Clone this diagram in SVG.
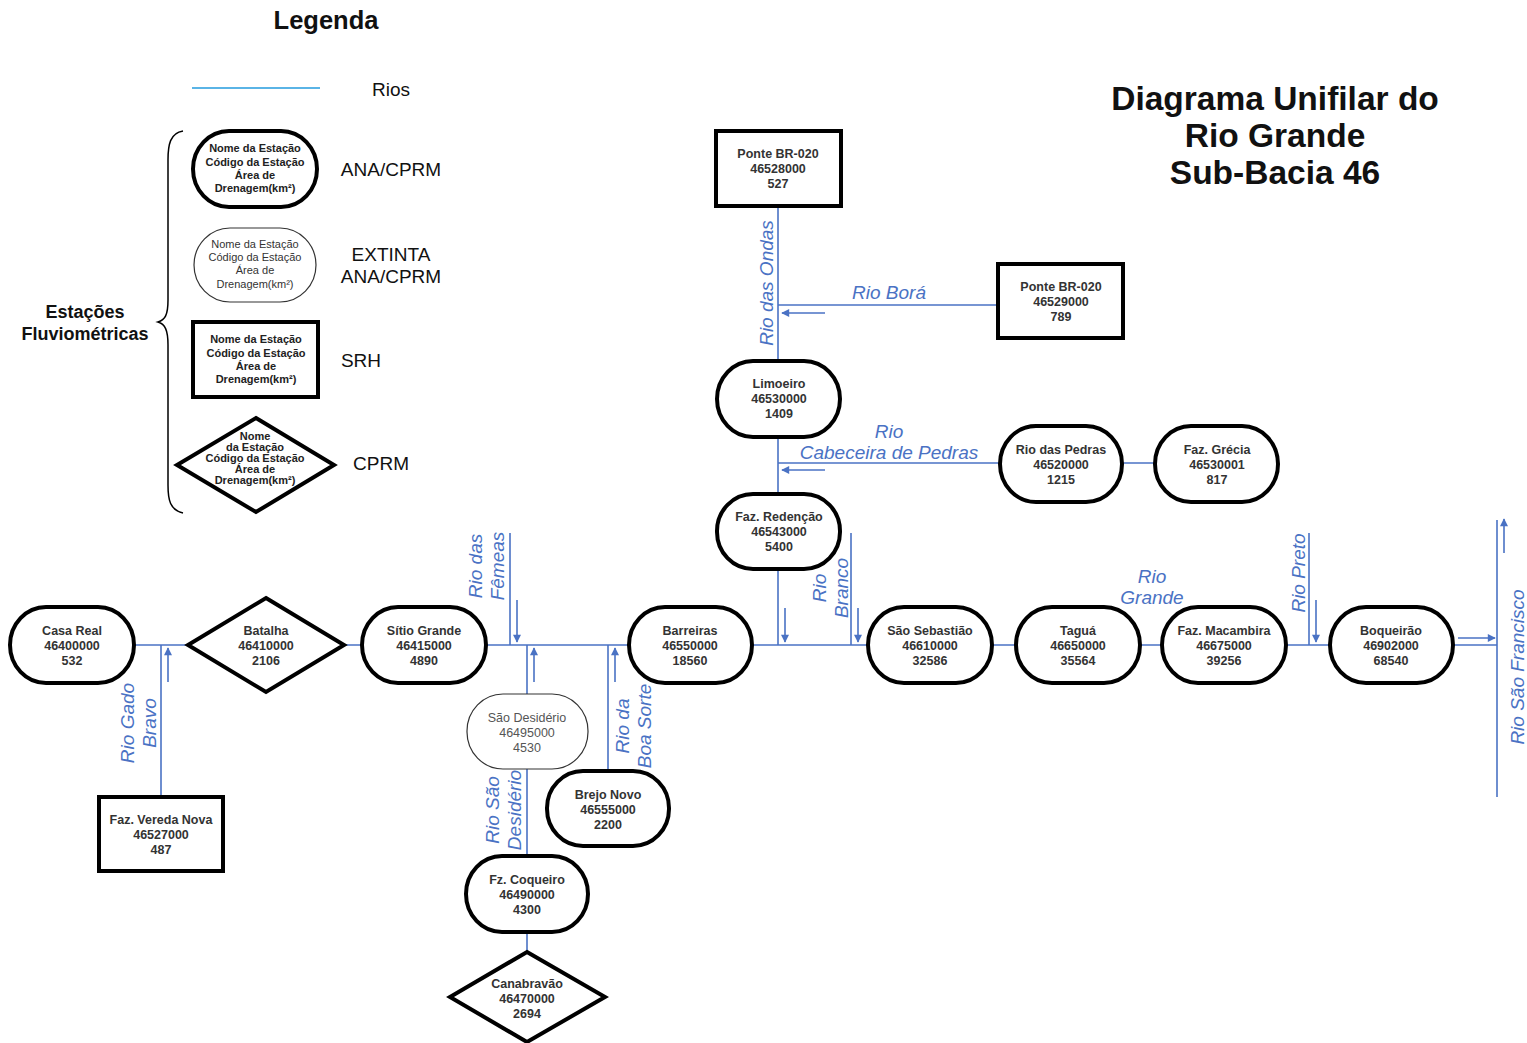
<svg xmlns="http://www.w3.org/2000/svg" width="1527" height="1043" viewBox="0 0 1527 1043">
<style>
.bg{fill:#fff}
.st{fill:#fff;stroke:#000;stroke-width:4}
.thin{fill:#fff;stroke:#333;stroke-width:1.2}
.t{font-family:"Liberation Sans",Arial,sans-serif;font-size:12.5px;font-weight:bold;fill:#333;text-anchor:middle}
.tt{font-family:"Liberation Sans",Arial,sans-serif;font-size:12.5px;fill:#555;text-anchor:middle}
.lt{font-family:"Liberation Sans",Arial,sans-serif;font-size:11px;font-weight:bold;fill:#222;text-anchor:middle}
.ltt{font-family:"Liberation Sans",Arial,sans-serif;font-size:11px;fill:#333;text-anchor:middle}
.riv{stroke:#4a72c4;stroke-width:1.6;fill:none}
.arr{stroke:#4a72c4;stroke-width:1.6;fill:none;marker-end:url(#ah)}
.rl{font-family:"Liberation Sans",Arial,sans-serif;font-size:19px;font-style:italic;fill:#4a72c4;text-anchor:middle}
.leg{font-family:"Liberation Sans",Arial,sans-serif;font-size:19px;fill:#111;text-anchor:middle}
.h{font-family:"Liberation Sans",Arial,sans-serif;font-weight:bold;fill:#111;text-anchor:middle}
</style>
<defs>
<marker id="ah" viewBox="0 0 10 10" refX="9" refY="5" markerWidth="9" markerHeight="8" orient="auto" markerUnits="userSpaceOnUse">
<path d="M0,0 L10,5 L0,10 z" fill="#4a72c4"/>
</marker>
</defs>
<rect class="bg" x="0" y="0" width="1527" height="1043"/>

<g id="title">
<text class="h" x="1275" y="110" font-size="33.5">Diagrama Unifilar do</text>
<text class="h" x="1275" y="147" font-size="33.5">Rio Grande</text>
<text class="h" x="1275" y="184" font-size="33.5">Sub-Bacia 46</text>
</g>

<g id="legend">
<text class="h" x="326" y="29" font-size="25.5">Legenda</text>
<line x1="192" y1="88" x2="320" y2="88" stroke="#5ab4e6" stroke-width="2"/>
<text class="leg" x="391" y="96" font-size="22">Rios</text>
<path d="M183,131 C170,133 168,145 168,160 L168,300 C168,315 165,320 158,322 C165,324 168,330 168,345 L168,485 C168,500 170,510 183,513" fill="none" stroke="#000" stroke-width="1.5"/>
<text class="h" x="85" y="318" font-size="18">Estações</text>
<text class="h" x="85" y="340" font-size="18">Fluviométricas</text>
<rect class="st" x="193" y="131" width="124" height="76" rx="36" ry="38"/>
<text class="lt" x="255" y="152">Nome da Estação</text>
<text class="lt" x="255" y="166">Código da Estação</text>
<text class="lt" x="255" y="179">Área de</text>
<text class="lt" x="255" y="192">Drenagem(km²)</text>
<text class="leg" x="391" y="176">ANA/CPRM</text>
<rect class="thin" x="194" y="228" width="122" height="74" rx="36" ry="37"/>
<text class="ltt" x="255" y="248">Nome da Estação</text>
<text class="ltt" x="255" y="261">Código da Estação</text>
<text class="ltt" x="255" y="274">Área de</text>
<text class="ltt" x="255" y="288">Drenagem(km²)</text>
<text class="leg" x="391" y="261">EXTINTA</text>
<text class="leg" x="391" y="283">ANA/CPRM</text>
<rect class="st" x="193" y="322" width="125" height="75"/>
<text class="lt" x="256" y="343">Nome da Estação</text>
<text class="lt" x="256" y="357">Código da Estação</text>
<text class="lt" x="256" y="370">Área de</text>
<text class="lt" x="256" y="383">Drenagem(km²)</text>
<text class="leg" x="361" y="367">SRH</text>
<polygon class="st" points="256,418 334,465 256,512 177,465"/>
<text class="lt" x="255" y="440">Nome</text>
<text class="lt" x="255" y="451">da Estação</text>
<text class="lt" x="255" y="462">Código da Estação</text>
<text class="lt" x="255" y="473">Área de</text>
<text class="lt" x="255" y="484">Drenagem(km²)</text>
<text class="leg" x="381" y="470">CPRM</text>
</g>

<g id="connectors">
<line class="riv" x1="134" y1="645" x2="1497" y2="645"/>
<line class="riv" x1="161" y1="645" x2="161" y2="797"/>
<line class="arr" x1="168" y1="682" x2="168" y2="648"/>
<line class="riv" x1="510" y1="533" x2="510" y2="645"/>
<line class="arr" x1="517" y1="600" x2="517" y2="642"/>
<line class="riv" x1="527" y1="645" x2="527" y2="694"/>
<line class="arr" x1="534" y1="682" x2="534" y2="648"/>
<line class="riv" x1="527" y1="769" x2="527" y2="856"/>
<line class="riv" x1="527" y1="932" x2="527" y2="952"/>
<line class="riv" x1="608" y1="645" x2="608" y2="771"/>
<line class="arr" x1="615" y1="682" x2="615" y2="648"/>
<line class="riv" x1="778" y1="206" x2="778" y2="361"/>
<line class="riv" x1="778" y1="437" x2="778" y2="494"/>
<line class="riv" x1="778" y1="569" x2="778" y2="645"/>
<line class="arr" x1="785" y1="608" x2="785" y2="642"/>
<line class="riv" x1="778" y1="305" x2="998" y2="305"/>
<line class="arr" x1="825" y1="313" x2="782" y2="313"/>
<line class="riv" x1="778" y1="463" x2="1000" y2="463"/>
<line class="arr" x1="825" y1="470" x2="782" y2="470"/>
<line class="riv" x1="1122" y1="463" x2="1155" y2="463"/>
<line class="riv" x1="851" y1="533" x2="851" y2="645"/>
<line class="arr" x1="858" y1="608" x2="858" y2="642"/>
<line class="riv" x1="1309" y1="533" x2="1309" y2="645"/>
<line class="arr" x1="1316" y1="600" x2="1316" y2="642"/>
<line class="arr" x1="1458" y1="638" x2="1495" y2="638"/>
<line class="riv" x1="1497" y1="520" x2="1497" y2="797"/>
<line class="arr" x1="1504" y1="553" x2="1504" y2="519"/>
</g>

<g id="river-labels">
<text class="rl" transform="translate(134,723) rotate(-90)">Rio Gado</text>
<text class="rl" transform="translate(156,723) rotate(-90)">Bravo</text>
<text class="rl" transform="translate(482,566) rotate(-90)">Rio das</text>
<text class="rl" transform="translate(504,566) rotate(-90)">Fêmeas</text>
<text class="rl" transform="translate(499,810) rotate(-90)">Rio São</text>
<text class="rl" transform="translate(521,810) rotate(-90)">Desidério</text>
<text class="rl" transform="translate(629,726) rotate(-90)">Rio da</text>
<text class="rl" transform="translate(651,726) rotate(-90)">Boa Sorte</text>
<text class="rl" transform="translate(773,283) rotate(-90)">Rio das Ondas</text>
<text class="rl" x="889" y="299">Rio Borá</text>
<text class="rl" x="889" y="438">Rio</text>
<text class="rl" x="889" y="459">Cabeceira de Pedras</text>
<text class="rl" transform="translate(826,588) rotate(-90)">Rio</text>
<text class="rl" transform="translate(848,588) rotate(-90)">Branco</text>
<text class="rl" x="1152" y="583">Rio</text>
<text class="rl" x="1152" y="604">Grande</text>
<text class="rl" transform="translate(1305,573) rotate(-90)">Rio Preto</text>
<text class="rl" font-size="23" transform="translate(1524,667) rotate(-90)">Rio São Francisco</text>
</g>

<g id="casa-real">
<rect class="st" x="10" y="607" width="124" height="76" rx="36" ry="38"/>
<text class="t" x="72" y="635">Casa Real</text><text class="t" x="72" y="650">46400000</text><text class="t" x="72" y="665">532</text>
</g>
<g id="batalha">
<polygon class="st" points="266,598 344,645 266,692 188,645"/>
<text class="t" x="266" y="635">Batalha</text><text class="t" x="266" y="650">46410000</text><text class="t" x="266" y="665">2106</text>
</g>
<g id="faz-vereda-nova">
<rect class="st" x="99" y="797" width="124" height="74"/>
<text class="t" x="161" y="824">Faz. Vereda Nova</text><text class="t" x="161" y="839">46527000</text><text class="t" x="161" y="854">487</text>
</g>
<g id="sitio-grande">
<rect class="st" x="362" y="607" width="124" height="76" rx="36" ry="38"/>
<text class="t" x="424" y="635">Sítio Grande</text><text class="t" x="424" y="650">46415000</text><text class="t" x="424" y="665">4890</text>
</g>
<g id="sao-desiderio">
<rect class="thin" x="467" y="694" width="121" height="75" rx="36" ry="37"/>
<text class="tt" x="527" y="722">São Desidério</text><text class="tt" x="527" y="737">46495000</text><text class="tt" x="527" y="752">4530</text>
</g>
<g id="fz-coqueiro">
<rect class="st" x="466" y="856" width="122" height="76" rx="36" ry="38"/>
<text class="t" x="527" y="884">Fz. Coqueiro</text><text class="t" x="527" y="899">46490000</text><text class="t" x="527" y="914">4300</text>
</g>
<g id="canabravao">
<polygon class="st" points="527,952 605,997 527,1042 450,997"/>
<text class="t" x="527" y="988">Canabravão</text><text class="t" x="527" y="1003">46470000</text><text class="t" x="527" y="1018">2694</text>
</g>
<g id="brejo-novo">
<rect class="st" x="547" y="771" width="122" height="75" rx="36" ry="37"/>
<text class="t" x="608" y="799">Brejo Novo</text><text class="t" x="608" y="814">46555000</text><text class="t" x="608" y="829">2200</text>
</g>
<g id="barreiras">
<rect class="st" x="629" y="607" width="123" height="76" rx="36" ry="38"/>
<text class="t" x="690" y="635">Barreiras</text><text class="t" x="690" y="650">46550000</text><text class="t" x="690" y="665">18560</text>
</g>
<g id="ponte-br020-a">
<rect class="st" x="716" y="131" width="125" height="75"/>
<text class="t" x="778" y="158">Ponte BR-020</text><text class="t" x="778" y="173">46528000</text><text class="t" x="778" y="188">527</text>
</g>
<g id="ponte-br020-b">
<rect class="st" x="998" y="264" width="125" height="74"/>
<text class="t" x="1061" y="291">Ponte BR-020</text><text class="t" x="1061" y="306">46529000</text><text class="t" x="1061" y="321">789</text>
</g>
<g id="limoeiro">
<rect class="st" x="717" y="361" width="123" height="76" rx="36" ry="38"/>
<text class="t" x="779" y="388">Limoeiro</text><text class="t" x="779" y="403">46530000</text><text class="t" x="779" y="418">1409</text>
</g>
<g id="rio-das-pedras">
<rect class="st" x="1000" y="426" width="122" height="76" rx="36" ry="38"/>
<text class="t" x="1061" y="454">Rio das Pedras</text><text class="t" x="1061" y="469">46520000</text><text class="t" x="1061" y="484">1215</text>
</g>
<g id="faz-grecia">
<rect class="st" x="1155" y="426" width="123" height="76" rx="36" ry="38"/>
<text class="t" x="1217" y="454">Faz. Grécia</text><text class="t" x="1217" y="469">46530001</text><text class="t" x="1217" y="484">817</text>
</g>
<g id="faz-redencao">
<rect class="st" x="717" y="494" width="123" height="75" rx="36" ry="37"/>
<text class="t" x="779" y="521">Faz. Redenção</text><text class="t" x="779" y="536">46543000</text><text class="t" x="779" y="551">5400</text>
</g>
<g id="sao-sebastiao">
<rect class="st" x="868" y="607" width="124" height="76" rx="36" ry="38"/>
<text class="t" x="930" y="635">São Sebastião</text><text class="t" x="930" y="650">46610000</text><text class="t" x="930" y="665">32586</text>
</g>
<g id="tagua">
<rect class="st" x="1016" y="607" width="124" height="76" rx="36" ry="38"/>
<text class="t" x="1078" y="635">Taguá</text><text class="t" x="1078" y="650">46650000</text><text class="t" x="1078" y="665">35564</text>
</g>
<g id="faz-macambira">
<rect class="st" x="1162" y="607" width="124" height="76" rx="36" ry="38"/>
<text class="t" x="1224" y="635">Faz. Macambira</text><text class="t" x="1224" y="650">46675000</text><text class="t" x="1224" y="665">39256</text>
</g>
<g id="boqueirao">
<rect class="st" x="1330" y="607" width="123" height="76" rx="36" ry="38"/>
<text class="t" x="1391" y="635">Boqueirão</text><text class="t" x="1391" y="650">46902000</text><text class="t" x="1391" y="665">68540</text>
</g>
</svg>
